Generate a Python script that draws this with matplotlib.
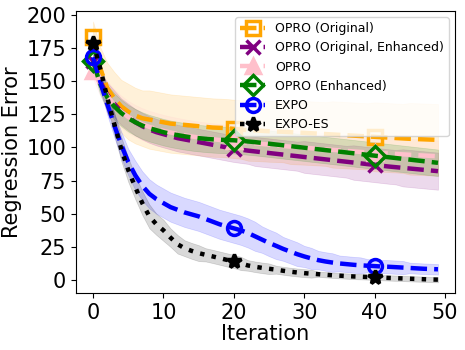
import matplotlib
matplotlib.use("Agg")
import matplotlib.pyplot as plt
import numpy as np

iterations = np.arange(50)

opro_orig = [183, 160, 145, 137, 131, 127, 124, 122, 121, 120,
             119, 118, 117.5, 117, 116.5, 116, 115.5, 115, 114.8, 114.5,
             114, 113.5, 113, 112.8, 112.5, 112.2, 112, 111.8, 111.5, 111.2,
             111, 110.7, 110.4, 110.1, 109.8, 109.5, 109.2, 108.9, 108.6, 108.3,
             108, 107.7, 107.4, 107.1, 106.8, 106.5, 106.3, 106.1, 105.9, 105.7]
opro_orig_std = [12, 16, 19, 20, 20, 21, 21, 21, 22, 22,
                 22, 22, 22, 22, 22, 22, 22, 22, 22, 22,
                 22, 22, 23, 23, 23, 23, 23, 23, 24, 24,
                 24, 24, 24, 24, 25, 25, 25, 25, 25, 25,
                 26, 26, 26, 26, 26, 27, 27, 27, 27, 27]

opro_orig_enh = [165, 150, 140, 133, 127, 123, 119, 116, 113.5, 111.5,
                 110, 108.5, 107, 106, 105, 104, 103, 102, 101, 100,
                 99, 98.3, 97.6, 97, 96.4, 95.8, 95.2, 94.6, 94, 93.4,
                 92.8, 92.2, 91.6, 91, 90.4, 89.8, 89.2, 88.6, 88, 87.4,
                 86.8, 86.2, 85.6, 85.1, 84.6, 84.1, 83.6, 83.1, 82.6, 82.1]
opro_orig_enh_std = [6, 8, 9, 10, 10, 10, 10, 10, 10, 10,
                     10, 10, 10, 10, 10, 10, 10, 10, 10, 10,
                     10, 10, 10, 11, 11, 11, 11, 11, 11, 11,
                     12, 12, 12, 12, 12, 12, 12, 13, 13, 13,
                     13, 13, 13, 13, 14, 14, 14, 14, 14, 14]

opro = [158, 148, 139, 132, 127, 123, 120, 117.5, 115.5, 114,
        112.5, 111.3, 110.2, 109.2, 108.3, 107.5, 106.8, 106.2, 105.6, 105.1,
        104.6, 104.1, 103.6, 103.1, 102.6, 102.1, 101.6, 101.1, 100.6, 100.2,
        99.8, 99.4, 99, 98.6, 98.2, 97.8, 97.4, 97, 96.6, 96.3,
        96, 95.7, 95.4, 95.1, 94.8, 94.5, 94.2, 93.9, 93.6, 93.3]
opro_std = [6, 9, 11, 12, 12, 12, 12, 12, 12, 12,
            12, 12, 12, 12, 12, 12, 12, 12, 12, 12,
            12, 12, 12, 12, 12, 12, 12, 12, 12, 12,
            12, 12, 12, 12, 12, 12, 12, 12, 12, 12,
            12, 12, 12, 12, 12, 12, 12, 12, 12, 12]

opro_enh = [165, 148, 138, 131, 126, 122, 119, 116.5, 114.5, 113,
            111.5, 110.3, 109.3, 108.4, 107.6, 107, 106.5, 106.1, 105.8, 105.6,
            105.4, 105, 104.5, 104, 103.4, 102.8, 102.2, 101.6, 101, 100.4,
            99.8, 99.2, 98.6, 98, 97.4, 96.8, 96.2, 95.6, 95, 94.4,
            93.8, 93.2, 92.6, 92, 91.4, 90.8, 90.2, 89.6, 89, 88.4]
opro_enh_std = [5, 8, 9, 10, 10, 10, 10, 10, 10, 10,
                10, 10, 10, 10, 10, 10, 10, 10, 10, 10,
                10, 10, 10, 10, 10, 10, 10, 10, 10, 10,
                10, 10, 10, 10, 10, 10, 10, 10, 10, 10,
                10, 10, 10, 10, 10, 10, 10, 10, 10, 10]

expo = [168, 150, 133, 117, 102, 89, 79, 71, 65, 61,
        58, 55, 53, 51, 49.5, 48, 46, 44, 42, 40.5,
        39, 37.5, 35.5, 33, 30.5, 28, 25.8, 23.5, 21.5, 19.5,
        17.8, 16.3, 15, 14, 13.2, 12.5, 12, 11.5, 11.1, 10.8,
        10.5, 10.2, 10, 9.7, 9.4, 9.1, 8.8, 8.5, 8.3, 8.1]
expo_std = [4, 6, 8, 9, 10, 10, 11, 11, 11, 11,
            11, 11, 11, 11, 11, 11, 11, 11, 11, 11,
            11, 11, 11, 11, 10, 10, 10, 9, 9, 9,
            8, 8, 7, 7, 7, 6, 6, 6, 6, 5,
            5, 5, 5, 5, 5, 4, 4, 4, 4, 4]

expo_es = [179, 160, 138, 118, 99, 83, 70, 58, 48, 42,
           37.5, 32, 27, 24, 22, 20.3, 19, 17.8, 16.5, 15.2,
           14, 12.5, 11, 10, 9.2, 8.5, 7.8, 7, 6.3, 5.7,
           5.2, 4.8, 4.4, 4, 3.6, 3.3, 3, 2.7, 2.5, 2.3,
           2, 1.8, 1.6, 1.4, 1.2, 1, 0.8, 0.6, 0.4, 0.3]
expo_es_std = [3, 5, 7, 8, 9, 9, 9, 9, 9, 8,
               8, 7, 7, 6, 6, 6, 5, 5, 5, 5,
               5, 5, 4, 4, 4, 4, 3, 3, 3, 3,
               3, 3, 2, 2, 2, 2, 2, 2, 2, 2,
               2, 2, 2, 2, 2, 2, 2, 2, 2, 2]

series = [
    ("OPRO (Original)", opro_orig, opro_orig_std, "orange", "s", "--", "none"),
    ("OPRO (Original, Enhanced)", opro_orig_enh, opro_orig_enh_std, "purple", "x", "--", "purple"),
    ("OPRO", opro, opro_std, "pink", "^", "--", "pink"),
    ("OPRO (Enhanced)", opro_enh, opro_enh_std, "green", "D", "--", "none"),
    ("EXPO", expo, expo_std, "blue", "o", "--", "none"),
    ("EXPO-ES", expo_es, expo_es_std, "black", "*", ":", "black"),
]

fig = plt.figure(figsize=(4.65, 3.5), dpi=100)
ax = fig.add_axes([0.163, 0.162, 0.816, 0.807])

for label, mean, std, color, marker, ls, face in series:
    mean = np.array(mean)
    std = np.array(std)
    ax.plot(iterations, mean, color=color, linestyle=ls, linewidth=3.2,
            marker=marker, markersize=10, markevery=20, markeredgewidth=2.5,
            markerfacecolor=face, label=label)
    ax.fill_between(iterations, mean - std, mean + std, color=color, alpha=0.15, linewidth=0.5)

ax.set_xlim(-2.45, 51.45)
ax.set_ylim(-10, 203)
ax.set_xticks([0, 10, 20, 30, 40, 50])
ax.set_yticks([0, 25, 50, 75, 100, 125, 150, 175, 200])
ax.tick_params(labelsize=15)
ax.set_xlabel("Iteration", fontsize=15, labelpad=1)
ax.set_ylabel("Regression Error", fontsize=15, labelpad=3)
ax.legend(loc="upper right", fontsize=9, handlelength=2.0)

fig.savefig("out.png", dpi=100)
